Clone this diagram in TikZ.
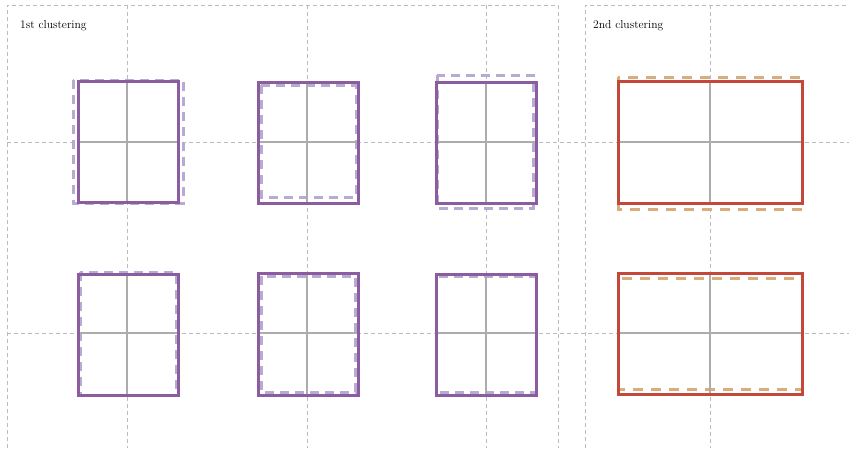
\documentclass[tikz,border=0pt]{standalone}
\definecolor{purp}{RGB}{139,92,160}
\definecolor{lpurp}{RGB}{185,170,212}
\definecolor{redc}{RGB}{196,72,58}
\definecolor{tanc}{RGB}{216,172,124}
\definecolor{crossgray}{RGB}{172,172,172}
\definecolor{gridgray}{RGB}{188,188,188}
\begin{document}
\begin{tikzpicture}[x=1pt,y=-1pt,
  gridline/.style={draw=gridgray, line width=1pt, dash pattern=on 4pt off 3pt},
  solidp/.style={draw=purp, line width=3pt},
  dashp/.style={draw=lpurp, line width=3pt, dash pattern=on 9pt off 6pt},
  solidr/.style={draw=redc, line width=3pt},
  dasho/.style={draw=tanc, line width=3pt, dash pattern=on 10pt off 8pt},
  crossline/.style={draw=crossgray, line width=2pt},
  title/.style={anchor=base west, inner sep=0pt, font=\fontsize{11.6}{14}\selectfont}]
\useasboundingbox (0,0) rectangle (849,448);
\fill[white] (0,0) rectangle (849,448);
% panel borders
\draw[gridline] (7,448) -- (7,5) -- (558,5) -- (558,448);
\draw[gridline] (585,448) -- (585,5) -- (849,5);
% grid lines
\foreach \yy in {142,333} \draw[gridline] (7,\yy) -- (849,\yy);
\foreach \xx in {127,307,486,710} \draw[gridline] (\xx,5) -- (\xx,448);
% dashed boxes
\draw[dashp] (73,80) rectangle (183,203);
\draw[dashp] (261,85) rectangle (356,197);
\draw[dashp] (437,75) rectangle (533,208);
\draw[dashp] (80,272) rectangle (176,395);
\draw[dashp] (261,276) rectangle (355,392);
\draw[dashp] (436,276) rectangle (536,392);
\draw[dasho] (618,77) rectangle (802,209);
\draw[dasho] (618,278) rectangle (802,389);
% crosses
\draw[crossline] (127,81) -- (127,202) (78,142) -- (178,142);
\draw[crossline] (307,82) -- (307,203) (258,142) -- (358,142);
\draw[crossline] (486,82) -- (486,203) (436,142) -- (536,142);
\draw[crossline] (127,274) -- (127,395) (78,333) -- (178,333);
\draw[crossline] (307,273) -- (307,395) (258,333) -- (358,333);
\draw[crossline] (486,274) -- (486,395) (436,333) -- (536,333);
\draw[crossline] (710,81) -- (710,203) (618,142) -- (802,142);
\draw[crossline] (710,273) -- (710,394) (618,333) -- (802,333);
% solid boxes
\draw[solidp] (78,81) rectangle (178,202);
\draw[solidp] (258,82) rectangle (358,203);
\draw[solidp] (436,82) rectangle (536,203);
\draw[solidp] (78,274) rectangle (178,395);
\draw[solidp] (258,273) rectangle (358,395);
\draw[solidp] (436,274) rectangle (536,395);
\draw[solidr] (618,81) rectangle (802,203);
\draw[solidr] (618,273) rectangle (802,394);
% titles
\node[title] (t1) at (20,28) {1st clustering};
\node[title] (t2) at (593,28) {2nd clustering};
\end{tikzpicture}
\end{document}
